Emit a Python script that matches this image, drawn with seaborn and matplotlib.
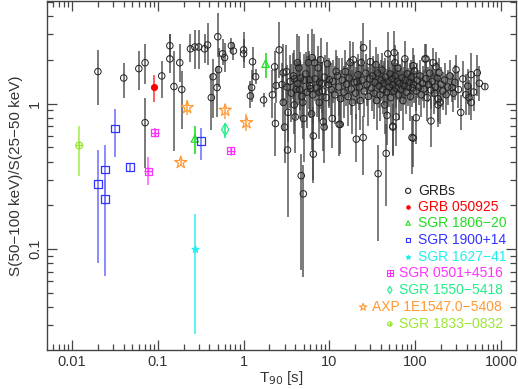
import numpy as np
import pandas as pd
import matplotlib
matplotlib.use("Agg")
import matplotlib.pyplot as plt
import seaborn as sns
from matplotlib.ticker import LogLocator, NullFormatter, FixedLocator, FixedFormatter

# ==============================================================================
# DATA  (T90 [s], hardness ratio, lower / upper error in dex)
# ==============================================================================
grb_short = [
    (0.020, 1.66, .23, .15), (0.040, 1.50, .135, .10), (0.060, 1.74, .15, .12),
    (0.071, 1.91, .145, .13), (0.071, 0.74, .31, .17), (0.111, 1.55, .15, .10),
    (0.138, 2.03, .095, .17), (0.138, 2.50, .08, .08), (0.154, 1.31, .44, .245),
    (0.18, 1.91, .13, .13), (0.19, 1.25, .27, .13), (0.24, 2.38, .09, .10),
    (0.27, 2.45, .15, .12), (0.30, 2.45, .15, .12), (0.35, 2.38, .10, .10),
    (0.38, 2.53, .14, .15), (0.44, 1.53, .28, .12), (0.42, 1.10, .22, .16),
    (0.49, 1.29, .20, .15), (0.50, 2.88, .14, .16), (0.51, 1.71, .12, .15),
    (0.57, 2.20, .08, .10), (0.60, 2.07, .10, .10), (0.72, 2.50, .05, .05),
    (0.76, 2.30, .06, .06), (1.0, 2.20, .10, .10), (1.0, 2.34, .08, .12),
    (1.27, 1.94, .12, .10), (1.38, 1.53, .05, .05), (1.24, 1.29, .10, .12),
    (1.20, 1.13, .08, .10),
]

grb_mid = [
    (1.71, 1.06, .05, .05), (2.17, 1.15, .16, .17), (2.3, 1.79, .17, .11),
    (2.35, 0.73, .22, .14), (2.4, 1.33, .12, .12), (2.6, 2.34, .19, .19),
    (2.8, 1.35, .15, .15), (2.9, 1.63, .2, .2), (2.9, 1.02, .2, .2),
    (3.0, 0.69, .25, .2), (3.25, 0.48, .46, .27), (3.16, 1.66, .18, .18),
    (3.3, 0.87, .2, .2), (3.9, 1.48, .2, .2), (3.9, 0.98, .2, .2),
    (4.0, 0.81, .25, .2), (4.25, 1.91, .2, .2), (4.4, 1.76, .22, .22),
    (4.5, 1.25, .2, .2), (4.6, 1.50, .22, .18), (4.7, 0.32, .65, .15),
    (4.97, 0.24, .57, .2), (4.9, 1.02, .25, .2), (5.0, 0.79, .3, .2),
    (5.7, 1.91, .2, .2), (5.85, 1.46, .2, .2), (6.0, 1.27, .2, .15),
    (6.2, 0.85, .25, .2), (6.3, 2.07, .18, .2), (6.5, 0.60, .3, .2),
    (6.5, 0.45, .2, .25), (6.7, 1.91, .2, .2), (7.4, 1.76, .2, .15),
    (7.6, 1.20, .2, .15), (7.6, 1.02, .25, .2), (7.9, 2.0, .2, .15),
    (8.1, 1.37, .2, .15), (8.5, 0.75, .2, .2), (8.7, 0.69, .25, .2),
    (9.5, 1.88, .15, .15), (10, 1.46, .18, .15), (10.8, 0.79, .2, .2),
    (12.0, 1.66, .15, .15), (13.0, 0.72, .22, .2), (13.4, 0.72, .2, .15),
    (15.3, 1.66, .15, .15), (17.5, 1.91, .15, .15), (19, 2.0, .15, .12),
    (20.6, 0.57, .16, .17), (21, 1.41, .15, .15), (24.8, 0.585, .26, .15),
    (25, 2.42, .15, .17), (23.5, 1.91, .15, .15),
]

grb_long = [
    (30, 1.94, .15, .15), (35, 1.85, .15, .12), (37, 0.33, .46, .2),
    (46, 0.455, .36, .2), (47, 0.83, .2, .15), (48, 2.2, .15, .15),
    (55, 0.70, .2, .15), (57, 2.24, .15, .15), (58, 1.91, .15, .12),
    (60, 0.81, .2, .15), (76, 2.03, .12, .12), (92, 0.585, .25, .15),
    (95, 1.82, .12, .12), (130, 2.03, .1, .1), (134, 2.03, .1, .1),
    (162, 1.91, .1, .1), (175, 1.79, .1, .1), (190, 1.63, .1, .1),
    (195, 1.02, .15, .12), (270, 1.29, .1, .1), (300, 1.71, .1, .1),
    (340, 0.87, .12, .12), (425, 1.10, .12, .12), (450, 1.58, .15, .15),
    (530, 1.63, .16, .12), (650, 1.31, .02, .02), (55, 0.69, .2, .15),
    (95, 0.58, .2, .15), (103, 0.80, .18, .15), (153, 0.76, .18, .15),
    (185, 0.98, .15, .12), (450, 1.02, .12, .12),
]

# dense band of long bursts
grb_band = [
    (3.2, 1.30, .15, .15), (3.5, 1.42, .18, .18), (3.6, 1.18, .2, .2), (3.8, 1.55, .16, .16),
    (4.1, 1.25, .2, .2), (4.3, 1.38, .15, .15), (4.8, 1.12, .22, .22), (5.1, 1.45, .18, .18),
    (5.3, 1.60, .15, .15), (5.5, 1.20, .25, .25), (5.9, 1.33, .2, .2), (6.4, 1.15, .2, .2),
    (6.8, 1.48, .15, .15), (7.1, 1.28, .2, .2), (7.7, 1.40, .18, .18), (8.3, 1.22, .2, .2),
    (8.8, 1.52, .15, .15), (9.2, 1.10, .22, .22), (9.8, 1.35, .16, .16),
    (10.5, 1.25, .18, .18), (11.0, 1.42, .15, .15), (11.6, 1.15, .2, .2), (12.4, 1.55, .14, .14),
    (12.8, 1.30, .2, .2), (13.5, 1.08, .2, .2), (14.2, 1.45, .15, .15), (14.8, 1.20, .18, .18),
    (15.8, 1.36, .15, .15), (16.5, 1.12, .2, .2), (17.0, 1.50, .14, .14), (18.0, 1.26, .18, .18),
    (18.6, 1.02, .22, .22), (19.5, 1.40, .15, .15), (20.2, 1.18, .18, .18), (21.5, 1.58, .14, .14),
    (22.3, 1.30, .16, .16), (23.0, 1.05, .2, .2), (24.0, 1.45, .15, .15), (25.5, 1.22, .18, .18),
    (26.5, 1.62, .13, .13), (27.5, 1.35, .15, .15), (28.5, 1.12, .2, .2), (29.5, 1.48, .14, .14),
    (31, 1.28, .16, .16), (32, 1.55, .14, .14), (33, 1.18, .18, .18), (34, 1.40, .15, .15),
    (35.5, 1.05, .2, .2), (36.5, 1.62, .13, .13), (38, 1.32, .15, .15), (39, 1.15, .18, .18),
    (40, 1.45, .14, .14), (41, 1.70, .12, .12), (42, 1.25, .17, .17), (43, 1.38, .15, .15),
    (44, 0.98, .2, .2), (45, 1.52, .13, .13), (46.5, 1.20, .16, .16), (48.5, 1.42, .15, .15),
    (50, 1.30, .14, .14), (51, 1.60, .13, .13), (52, 1.10, .18, .18), (53.5, 1.48, .12, .12),
    (55, 1.35, .15, .15), (56.5, 1.22, .15, .15), (58.5, 1.55, .13, .13), (60, 1.28, .14, .14),
    (62, 1.42, .13, .13), (63, 1.75, .11, .11), (64, 1.15, .17, .17), (66, 1.38, .13, .13),
    (68, 1.25, .15, .15), (70, 1.50, .13, .13), (72, 1.05, .2, .2), (74, 1.33, .13, .13),
    (77, 1.45, .13, .13), (79, 1.20, .15, .15), (81, 1.60, .11, .11), (83, 1.30, .13, .13),
    (86, 1.40, .13, .13), (88, 1.12, .17, .17), (90, 1.52, .12, .12), (93, 1.28, .13, .13),
    (96, 1.36, .13, .13), (98, 1.68, .11, .11),
    (103, 1.22, .14, .14), (106, 1.45, .12, .12), (110, 1.30, .12, .12), (114, 1.55, .11, .11),
    (118, 1.15, .15, .15), (122, 1.38, .12, .12), (126, 1.26, .13, .13), (133, 1.48, .11, .11),
    (138, 1.10, .16, .16), (143, 1.35, .12, .12), (148, 1.62, .1, .1), (153, 1.24, .13, .13),
    (158, 1.42, .11, .11), (168, 1.18, .14, .14), (172, 1.30, .12, .12), (180, 1.50, .11, .11),
    (185, 1.08, .16, .16), (200, 1.36, .12, .12), (210, 1.22, .13, .13), (220, 1.45, .12, .12),
    (230, 1.15, .14, .14), (240, 1.30, .12, .12), (255, 1.55, .11, .11), (280, 1.18, .13, .13),
    (290, 1.40, .12, .12), (320, 1.25, .13, .13), (360, 1.48, .12, .12), (390, 1.15, .14, .14),
    (410, 1.32, .12, .12), (480, 1.20, .13, .13), (560, 1.38, .12, .12),
]

# special sources: T90, hardness, lower bound, upper bound
grb050925_t, grb050925_h = [0.090], [1.31]
grb050925_lo, grb050925_hi = [1.03], [1.58]

sgr1806_t, sgr1806_h = [0.27, 1.8], [0.576, 1.88]
sgr1806_lo, sgr1806_hi = [0.45, 1.5], [0.70, 2.23]

sgr1900_t = [0.0316, 0.020, 0.0242, 0.0242, 0.0472, 0.316]
sgr1900_h = [0.674, 0.279, 0.353, 0.22, 0.365, 0.55]
sgr1900_lo = [0.43, 0.08, 0.20, 0.065, 0.34, 0.41]
sgr1900_hi = [0.92, 0.48, 0.52, 0.30, 0.39, 0.685]

sgr1627_t, sgr1627_h = [0.27], [0.10]
sgr1627_lo, sgr1627_hi = [0.026], [0.174]

sgr0501_t = [0.092, 0.077, 0.71]
sgr0501_h = [0.633, 0.342, 0.476]
sgr0501_lo = [0.59, 0.275, 0.455]
sgr0501_hi = [0.68, 0.43, 0.50]

sgr1550_t, sgr1550_h = [0.61], [0.664]
sgr1550_lo, sgr1550_hi = [0.585], [0.74]

axp_t = [0.22, 0.185, 0.61, 1.08]
axp_h = [0.94, 0.394, 0.90, 0.74]
axp_lo = [0.83, 0.37, 0.79, 0.65]
axp_hi = [1.06, 0.42, 1.00, 0.85]

sgr1833_t, sgr1833_h = [0.0121], [0.516]
sgr1833_lo, sgr1833_hi = [0.32], [0.707]

# ==============================================================================
# FIGURE
# ==============================================================================
sns.set_style("ticks")
plt.rcParams['font.family'] = ['Liberation Sans', 'DejaVu Sans']

grb = pd.DataFrame(grb_short + grb_mid + grb_long + grb_band,
                   columns=['t90', 'hr', 'dlo', 'dhi'])
grb['lo'] = grb['hr'] - grb['hr'] / 10 ** grb['dlo']
grb['hi'] = grb['hr'] * 10 ** grb['dhi'] - grb['hr']

fig = plt.figure(figsize=(5.18, 3.89), dpi=100)
ax = fig.add_axes([47 / 518, 39 / 389, 469 / 518, 349 / 389])

ax.errorbar(grb['t90'], grb['hr'], yerr=[grb['lo'], grb['hi']], fmt='none',
            ecolor='#444444', elinewidth=1.1, alpha=0.9, zorder=2)
sns.scatterplot(data=grb, x='t90', y='hr', ax=ax, marker='o', s=22,
                color='black', facecolor='none', edgecolor='#222222',
                linewidth=0.7, zorder=3)

specials = [
    # t, h, lo, hi, color, ecolor, marker, size, filled
    (grb050925_t, grb050925_h, grb050925_lo, grb050925_hi, '#ff0000', '#ff4444', 'o', 18, True),
    (sgr1806_t, sgr1806_h, sgr1806_lo, sgr1806_hi, '#22dd22', '#22dd22', '^', 28, False),
    (sgr1900_t, sgr1900_h, sgr1900_lo, sgr1900_hi, '#3333ff', '#7777ff', 's', 32, False),
    (sgr1627_t, sgr1627_h, sgr1627_lo, sgr1627_hi, '#22eeee', '#44eeee', '*', 26, True),
    (sgr0501_t, sgr0501_h, sgr0501_lo, sgr0501_hi, '#ff33ff', '#ff66ff', 's', 24, False),
    (sgr1550_t, sgr1550_h, sgr1550_lo, sgr1550_hi, '#22ee88', '#22ee88', 'd', 38, False),
    (axp_t, axp_h, axp_lo, axp_hi, '#ff9933', '#ffaa55', '*', 85, False),
    (sgr1833_t, sgr1833_h, sgr1833_lo, sgr1833_hi, '#99e633', '#aaee55', 'o', 24, False),
]

for t, h, lo, hi, col, ecol, mk, sz, filled in specials:
    t = np.array(t); h = np.array(h)
    ax.errorbar(t, h, yerr=[h - np.array(lo), np.array(hi) - h], fmt='none',
                ecolor=ecol, elinewidth=1.2, zorder=4)
    df = pd.DataFrame({'t90': t, 'hr': h})
    sns.scatterplot(data=df, x='t90', y='hr', ax=ax, marker=mk, s=sz, color=col,
                    facecolor=col if filled else 'none', edgecolor=col,
                    linewidth=0.9, zorder=5)
    if col in ('#ff33ff', '#99e633'):
        sns.scatterplot(data=df, x='t90', y='hr', ax=ax, marker='+', s=sz * 1.1,
                        color=col, linewidth=0.9, zorder=5)

ax.set_xscale('log')
ax.set_yscale('log')
ax.set_xlim(0.0051, 1500)
ax.set_ylim(0.0203, 5.07)

ax.xaxis.set_major_locator(FixedLocator([0.01, 0.1, 1, 10, 100, 1000]))
ax.xaxis.set_major_formatter(FixedFormatter(['0.01', '0.1', '1', '10', '100', '1000']))
ax.xaxis.set_minor_locator(LogLocator(base=10, subs=np.arange(2, 10), numticks=20))
ax.xaxis.set_minor_formatter(NullFormatter())
ax.yaxis.set_major_locator(FixedLocator([0.1, 1]))
ax.yaxis.set_major_formatter(FixedFormatter(['0.1', '1']))
ax.yaxis.set_minor_locator(LogLocator(base=10, subs=np.arange(2, 10), numticks=20))
ax.yaxis.set_minor_formatter(NullFormatter())

ax.tick_params(which='both', direction='in', top=True, right=True,
               color='#444444', width=0.9, labelsize=10.5, labelcolor='#333333')
ax.tick_params(which='major', length=7)
ax.tick_params(which='minor', length=4)
for lab in ax.get_yticklabels():
    lab.set_rotation(90)
    lab.set_va('center')
for sp in ax.spines.values():
    sp.set_color('#444444')
    sp.set_linewidth(1.0)

ax.set_xlabel('T$_{90}$ [s]', fontsize=11, color='#333333', labelpad=0)
ax.set_ylabel('S(50\u2212100 keV)/S(25\u221250 keV)', fontsize=11, color='#333333', labelpad=4)

# legend drawn by hand: label, color, marker, size, filled, text x, marker x, y
legend_rows = [
    ('GRBs', '#222222', 'o', 14, False, 0.791, 0.770, 0.456),
    ('GRB 050925', '#ff0000', 'o', 6, True, 0.791, 0.770, 0.410),
    ('SGR 1806\u221220', '#22dd22', '^', 10, False, 0.791, 0.770, 0.364),
    ('SGR 1900+14', '#3333ff', 's', 10, False, 0.791, 0.770, 0.315),
    ('SGR 1627\u221241', '#22eeee', '*', 10, True, 0.791, 0.770, 0.266),
    ('SGR 0501+4516', '#ff33ff', 's', 16, False, 0.751, 0.731, 0.221),
    ('SGR 1550\u22125418', '#22ee88', 'd', 14, False, 0.751, 0.731, 0.172),
    ('AXP 1E1547.0\u22125408', '#ff9933', '*', 30, False, 0.693, 0.674, 0.123),
    ('SGR 1833\u22120832', '#99e633', 'o', 10, False, 0.751, 0.731, 0.0745),
]
for lab, col, mk, sz, filled, tx, mx, y in legend_rows:
    ax.text(tx, y, lab, color=col, fontsize=10, ha='left', va='center',
            transform=ax.transAxes)
    ax.scatter([mx], [y], marker=mk, s=sz, transform=ax.transAxes,
               facecolor=col if filled else 'none', edgecolor=col,
               linewidth=0.8, clip_on=False, zorder=6)
    if lab.startswith('SGR 0501') or lab.startswith('SGR 1833'):
        ax.scatter([mx], [y], marker='+', s=sz * 1.2, transform=ax.transAxes,
                   color=col, linewidth=0.8, clip_on=False, zorder=6)

fig.savefig('out.png', dpi=100)
